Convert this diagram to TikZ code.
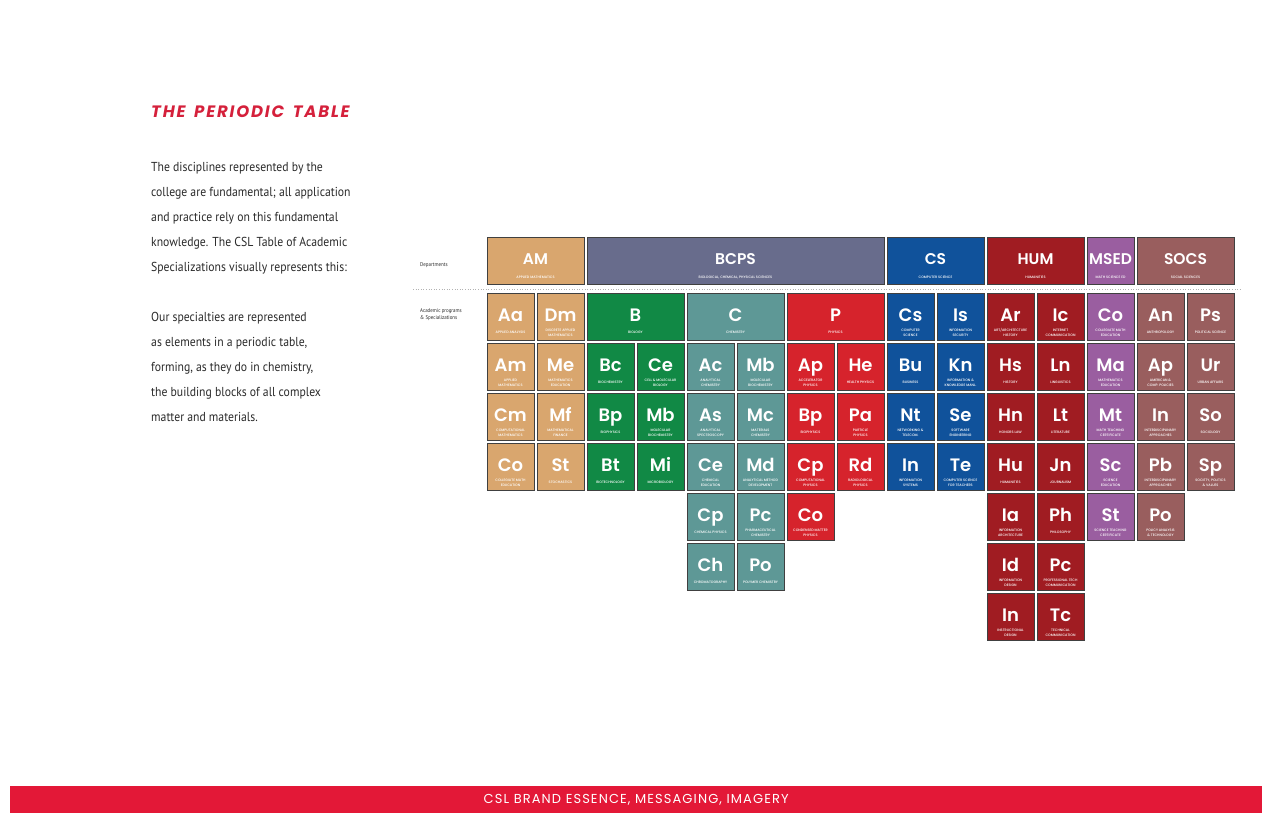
\documentclass[tikz,border=0pt]{standalone}
\usepackage{fontspec}
\newfontfamily\pop{Poppins}
\newfontfamily\popm{Poppins Medium}
\newfontfamily\popsb{Poppins SemiBold}
\newfontfamily\bodyf{PT Sans}[FakeStretch=0.9]
\newfontfamily\titf{Poppins}[LetterSpace=11]
\newfontfamily\footf{Poppins}[LetterSpace=8.5]
\definecolor{cmath}{HTML}{D9A66E}
\definecolor{cbcps}{HTML}{686C8C}
\definecolor{cbio}{HTML}{118945}
\definecolor{cchem}{HTML}{5E9896}
\definecolor{cphys}{HTML}{D6232C}
\definecolor{ccs}{HTML}{10529B}
\definecolor{chum}{HTML}{A01C22}
\definecolor{cmsed}{HTML}{9A5EA0}
\definecolor{csocs}{HTML}{995E5E}
\definecolor{cred}{HTML}{E31837}
\definecolor{ctitle}{HTML}{D5203B}
\definecolor{cbody}{HTML}{2A2A2A}
\newcommand\el[7]{%
  \pgfmathsetmacro\ex{487+50*#2+(50*#4-3)/2}%
  \pgfmathsetmacro\ey{293+50*(#3-1)+23.5}%
  \node[cell, fill=#5, minimum width={50*#4-3}] (#1) at (\ex,\ey) {};
  \node[sym] (#1-s) at ([yshift=-29pt]#1.north) {#6};
  \node[sub] (#1-t) at ([yshift=-40pt]#1.north) {#7};
}
\newcommand\dep[6]{%
  \pgfmathsetmacro\ex{487+50*#2+(50*#3-3)/2}%
  \node[cell, fill=#4, minimum width={50*#3-3}] (#1) at (\ex,260.5) {};
  \node[dsym] (#1-s) at ([yshift=-28pt]#1.north) {#5};
  \node[sub] (#1-t) at ([yshift=-41pt]#1.north) {#6};
}
\begin{document}
\begin{tikzpicture}[x=1pt,y=-1pt,
  cell/.style={draw=black!75, line width=0.9pt, minimum height=47pt, inner sep=0pt, rectangle},
  sym/.style={text=white, anchor=base, font=\popsb\fontsize{18}{18}\selectfont, inner sep=0pt},
  dsym/.style={text=white, anchor=base, font=\popsb\fontsize{15.5}{15.5}\selectfont, inner sep=0pt},
  sub/.style={text=white, font=\popm\fontsize{3.4}{4.6}\selectfont, align=center, inner sep=0pt},
  body/.style={anchor=base west, inner sep=0pt, text=cbody, font=\bodyf\fontsize{13}{13}\selectfont},
  lbl/.style={anchor=base west, inner sep=0pt, text=cbody, align=left, font=\bodyf\fontsize{5.5}{7.5}\selectfont}]
\useasboundingbox[fill=white] (0,0) rectangle (1272,823);

% title and body text
\node[anchor=base west, inner sep=0pt, text=ctitle, font=\titf\bfseries\itshape\fontsize{16.5}{16.5}\selectfont] (title) at (151,117) {THE\hspace{3pt} PERIODIC\hspace{3pt} TABLE};
\node[body] (b1) at (151,171) {The disciplines represented by the};
\node[body] (b2) at (151,196) {college are fundamental; all application};
\node[body] (b3) at (151,221) {and practice rely on this fundamental};
\node[body] (b4) at (151,246) {knowledge. The CSL Table of Academic};
\node[body] (b5) at (151,271) {Specializations visually represents this:};
\node[body] (b6) at (151,321) {Our specialties are represented};
\node[body] (b7) at (151,346) {as elements in a periodic table,};
\node[body] (b8) at (151,371) {forming, as they do in chemistry,};
\node[body] (b9) at (151,396) {the building blocks of all complex};
\node[body] (b10) at (151,421) {matter and materials.};

% row labels and separator
\node[lbl] (ldep) at (420,266) {Departments};
\node[lbl, anchor=north west] (lacad) at (420,308) {Academic programs\\\& Specializations};
\coordinate (sepa) at (413,289);
\coordinate (sepb) at (1240,289);
\draw[black!30, line width=0.6pt, dotted] (sepa) -- (sepb);

% departments
\dep{AM}{0}{2}{cmath}{AM}{APPLIED MATHEMATICS}
\dep{BCPS}{2}{6}{cbcps}{BCPS}{BIOLOGICAL, CHEMICAL, PHYSICAL SCIENCES}
\dep{CS}{8}{2}{ccs}{CS}{COMPUTER SCIENCE}
\dep{HUM}{10}{2}{chum}{HUM}{HUMANITIES}
\dep{MSED}{12}{1}{cmsed}{MSED}{MATH SCIENCE ED}
\dep{SOCS}{13}{2}{csocs}{SOCS}{SOCIAL SCIENCES}

% row 1
\el{r1a}{0}{1}{1}{cmath}{Aa}{APPLIED ANALYSIS}
\el{r1b}{1}{1}{1}{cmath}{Dm}{DISCRETE APPLIED\\MATHEMATICS}
\el{r1c}{2}{1}{2}{cbio}{B}{BIOLOGY}
\el{r1d}{4}{1}{2}{cchem}{C}{CHEMISTRY}
\el{r1e}{6}{1}{2}{cphys}{P}{PHYSICS}
\el{r1f}{8}{1}{1}{ccs}{Cs}{COMPUTER\\SCIENCE}
\el{r1g}{9}{1}{1}{ccs}{Is}{INFORMATION\\SECURITY}
\el{r1h}{10}{1}{1}{chum}{Ar}{ART/ARCHITECTURE\\HISTORY}
\el{r1i}{11}{1}{1}{chum}{Ic}{INTERNET\\COMMUNICATION}
\el{r1j}{12}{1}{1}{cmsed}{Co}{COLLEGIATE MATH\\EDUCATION}
\el{r1k}{13}{1}{1}{csocs}{An}{ANTHROPOLOGY}
\el{r1l}{14}{1}{1}{csocs}{Ps}{POLITICAL SCIENCE}

% row 2
\el{r2a}{0}{2}{1}{cmath}{Am}{APPLIED\\MATHEMATICS}
\el{r2b}{1}{2}{1}{cmath}{Me}{MATHEMATICS\\EDUCATION}
\el{r2c}{2}{2}{1}{cbio}{Bc}{BIOCHEMISTRY}
\el{r2d}{3}{2}{1}{cbio}{Ce}{CELL \& MOLECULAR\\BIOLOGY}
\el{r2e}{4}{2}{1}{cchem}{Ac}{ANALYTICAL\\CHEMISTRY}
\el{r2f}{5}{2}{1}{cchem}{Mb}{MOLECULAR\\BIOCHEMISTRY}
\el{r2g}{6}{2}{1}{cphys}{Ap}{ACCELERATOR\\PHYSICS}
\el{r2h}{7}{2}{1}{cphys}{He}{HEALTH PHYSICS}
\el{r2i}{8}{2}{1}{ccs}{Bu}{BUSINESS}
\el{r2j}{9}{2}{1}{ccs}{Kn}{INFORMATION \&\\KNOWLEDGE MANL.}
\el{r2k}{10}{2}{1}{chum}{Hs}{HISTORY}
\el{r2l}{11}{2}{1}{chum}{Ln}{LINGUISTICS}
\el{r2m}{12}{2}{1}{cmsed}{Ma}{MATHEMATICS\\EDUCATION}
\el{r2n}{13}{2}{1}{csocs}{Ap}{AMERICAN \&\\COMP. POLICIES}
\el{r2o}{14}{2}{1}{csocs}{Ur}{URBAN AFFAIRS}

% row 3
\el{r3a}{0}{3}{1}{cmath}{Cm}{COMPUTATIONAL\\MATHEMATICS}
\el{r3b}{1}{3}{1}{cmath}{Mf}{MATHEMATICAL\\FINANCE}
\el{r3c}{2}{3}{1}{cbio}{Bp}{BIOPHYSICS}
\el{r3d}{3}{3}{1}{cbio}{Mb}{MOLECULAR\\BIOCHEMISTRY}
\el{r3e}{4}{3}{1}{cchem}{As}{ANALYTICAL\\SPECTROSCOPY}
\el{r3f}{5}{3}{1}{cchem}{Mc}{MATERIALS\\CHEMISTRY}
\el{r3g}{6}{3}{1}{cphys}{Bp}{BIOPHYSICS}
\el{r3h}{7}{3}{1}{cphys}{Pa}{PARTICLE\\PHYSICS}
\el{r3i}{8}{3}{1}{ccs}{Nt}{NETWORKING \&\\TELECOM.}
\el{r3j}{9}{3}{1}{ccs}{Se}{SOFTWARE\\ENGINEERING}
\el{r3k}{10}{3}{1}{chum}{Hn}{HONORS LAW}
\el{r3l}{11}{3}{1}{chum}{Lt}{LITERATURE}
\el{r3m}{12}{3}{1}{cmsed}{Mt}{MATH TEACHING\\CERTIFICATE}
\el{r3n}{13}{3}{1}{csocs}{In}{INTERDISCIPLINARY\\APPROACHES}
\el{r3o}{14}{3}{1}{csocs}{So}{SOCIOLOGY}

% row 4
\el{r4a}{0}{4}{1}{cmath}{Co}{COLLEGIATE MATH\\EDUCATION}
\el{r4b}{1}{4}{1}{cmath}{St}{STOCHASTICS}
\el{r4c}{2}{4}{1}{cbio}{Bt}{BIOTECHNOLOGY}
\el{r4d}{3}{4}{1}{cbio}{Mi}{MICROBIOLOGY}
\el{r4e}{4}{4}{1}{cchem}{Ce}{CHEMICAL\\EDUCATION}
\el{r4f}{5}{4}{1}{cchem}{Md}{ANALYTICAL METHOD\\DEVELOPMENT}
\el{r4g}{6}{4}{1}{cphys}{Cp}{COMPUTATIONAL\\PHYSICS}
\el{r4h}{7}{4}{1}{cphys}{Rd}{RADIOLOGICAL\\PHYSICS}
\el{r4i}{8}{4}{1}{ccs}{In}{INFORMATION\\SYSTEMS}
\el{r4j}{9}{4}{1}{ccs}{Te}{COMPUTER SCIENCE\\FOR TEACHERS}
\el{r4k}{10}{4}{1}{chum}{Hu}{HUMANITIES}
\el{r4l}{11}{4}{1}{chum}{Jn}{JOURNALISM}
\el{r4m}{12}{4}{1}{cmsed}{Sc}{SCIENCE\\EDUCATION}
\el{r4n}{13}{4}{1}{csocs}{Pb}{INTERDISCIPLINARY\\APPROACHES}
\el{r4o}{14}{4}{1}{csocs}{Sp}{SOCIETY, POLITICS\\\& VALUES}

% row 5
\el{r5e}{4}{5}{1}{cchem}{Cp}{CHEMICAL PHYSICS}
\el{r5f}{5}{5}{1}{cchem}{Pc}{PHARMACEUTICAL\\CHEMISTRY}
\el{r5g}{6}{5}{1}{cphys}{Co}{CONDENSED MATTER\\PHYSICS}
\el{r5k}{10}{5}{1}{chum}{Ia}{INFORMATION\\ARCHITECTURE}
\el{r5l}{11}{5}{1}{chum}{Ph}{PHILOSOPHY}
\el{r5m}{12}{5}{1}{cmsed}{St}{SCIENCE TEACHING\\CERTIFICATE}
\el{r5n}{13}{5}{1}{csocs}{Po}{POLICY ANALYSIS\\\& TECHNOLOGY}

% row 6
\el{r6e}{4}{6}{1}{cchem}{Ch}{CHROMATOGRAPHY}
\el{r6f}{5}{6}{1}{cchem}{Po}{POLYMER CHEMISTRY}
\el{r6k}{10}{6}{1}{chum}{Id}{INFORMATION\\DESIGN}
\el{r6l}{11}{6}{1}{chum}{Pc}{PROFESSIONAL TECH\\COMMUNICATION}

% row 7
\el{r7k}{10}{7}{1}{chum}{In}{INSTRUCTIONAL\\DESIGN}
\el{r7l}{11}{7}{1}{chum}{Tc}{TECHNICAL\\COMMUNICATION}

% footer
\node[fill=cred, minimum width=1252pt, minimum height=27pt, inner sep=0pt, anchor=north west] (foot) at (10,786) {};
\node[text=white, inner sep=0pt, font=\footf\fontsize{13}{13}\selectfont] (foottxt) at (foot.center) {CSL BRAND ESSENCE, MESSAGING, IMAGERY};
\end{tikzpicture}
\end{document}
